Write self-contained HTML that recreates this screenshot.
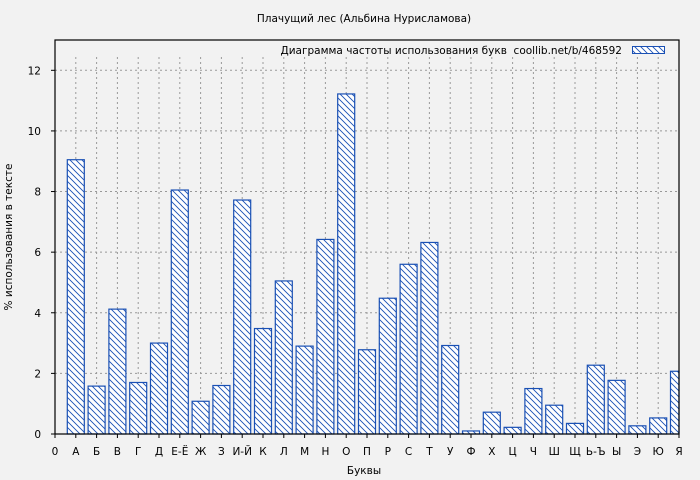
<!DOCTYPE html><html><head><meta charset="utf-8"><style>body{margin:0;background:#f2f2f2}svg{display:block}text{font-family:"DejaVu Sans","Liberation Sans",sans-serif;fill:#000}</style></head><body>
<svg width="700" height="480" xmlns="http://www.w3.org/2000/svg">
<defs><pattern id="h" width="6" height="6" patternUnits="userSpaceOnUse"><rect width="6" height="6" fill="#fff"/><path d="M-1,-1 L7,7 M-1,5 L1,7 M5,-1 L7,1" stroke="#1a50b4" stroke-width="0.9"/></pattern></defs>
<rect width="700" height="480" fill="#f2f2f2"/>
<text x="364" y="22" font-size="10.5" text-anchor="middle">Плачущий лес (Альбина Нурисламова)</text>
<g id="g"></g>
<rect x="55" y="40" width="624" height="394" fill="none" stroke="#000" stroke-width="1.2"/>
<text x="622" y="54" font-size="10.5" text-anchor="end">Диаграмма частоты использования букв&#160; coollib.net/b/468592</text>
<rect x="632.5" y="46.5" width="32" height="7" fill="url(#h)" stroke="#1a50b4"/>
<text x="364" y="474" font-size="10.5" text-anchor="middle">Буквы</text>
<text transform="translate(12,237) rotate(-90)" font-size="10.5" text-anchor="middle">% использования в тексте</text>
</svg>
<script>
const v=[9.05,1.58,4.12,1.7,3.0,8.05,1.08,1.6,7.72,3.48,5.05,2.9,6.42,11.22,2.78,4.48,5.6,6.32,2.92,0.1,0.72,0.22,1.5,0.95,0.35,2.27,1.77,0.27,0.53,2.07];
const L=["0","А","Б","В","Г","Д","Е-Ё","Ж","З","И-Й","К","Л","М","Н","О","П","Р","С","Т","У","Ф","Х","Ц","Ч","Ш","Щ","Ь-Ъ","Ы","Э","Ю","Я"];
const X=i=>55+i*624/30, Y=y=>434-y*394/13;
let s="";
for(let i=1;i<30;i++)s+=`<line x1="${X(i)}" y1="57" x2="${X(i)}" y2="434" stroke="#999" stroke-dasharray="2,3"/>`;
for(let k=2;k<=12;k+=2)s+=`<line x1="55" y1="${Y(k)}" x2="679" y2="${Y(k)}" stroke="#999" stroke-dasharray="2,3"/>`;
v.forEach((d,j)=>{const i=j+1;let x0=X(i)-8.5,w=17;if(x0+w>679)w=679-x0;s+=`<rect x="${x0}" y="${Y(d)}" width="${w}" height="${434-Y(d)}" fill="url(#h)" stroke="#1a50b4" stroke-width="1.2"/>`;});
for(let i=0;i<=30;i++){s+=`<line x1="${X(i)}" y1="434" x2="${X(i)}" y2="438" stroke="#000"/><text x="${X(i)}" y="455" font-size="10.5" text-anchor="middle">${L[i]}</text>`;}
for(let k=0;k<=12;k+=2)s+=`<line x1="51" y1="${Y(k)}" x2="55" y2="${Y(k)}" stroke="#000"/><text x="41" y="${Y(k)+4}" font-size="10.5" text-anchor="end">${k}</text>`;
document.getElementById("g").innerHTML=s;
</script>
</body></html>
